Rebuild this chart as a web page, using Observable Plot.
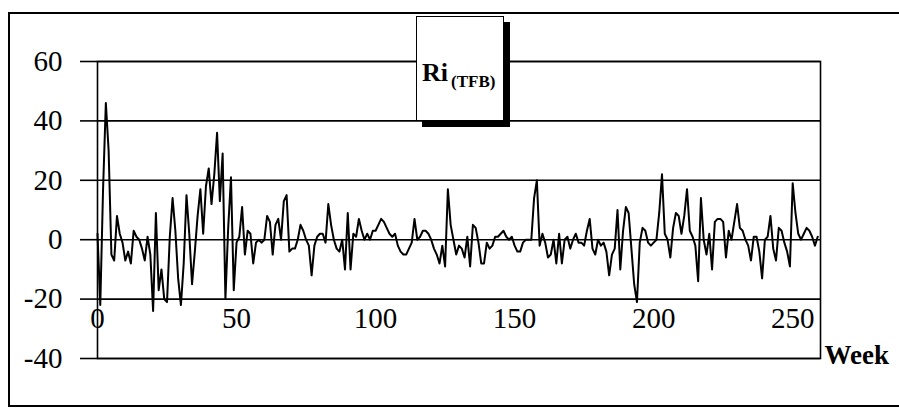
<!DOCTYPE html>
<html>
<head>
<meta charset="utf-8">
<script src="https://cdn.jsdelivr.net/npm/d3@7"></script>
<script src="https://cdn.jsdelivr.net/npm/@observablehq/plot@0.6"></script>
<style>
  body { margin: 0; background: #fff; }
  #wrap { position: relative; width: 899px; height: 410px; overflow: hidden; font-family: "Liberation Serif", "Times New Roman", serif; }
  #chart { position: absolute; left: 0; top: 0; }
  #outer { position: absolute; left: 8px; top: 12px; width: 899px; height: 391px; border: 2px solid #000; border-right: none; }
  #legend { position: absolute; left: 416px; top: 16px; width: 86px; height: 103px; background: #fff; border: 1.5px solid #000; box-shadow: 6px 6px 0 #000; }
  #legend .main { position: absolute; left: 5px; top: 43px; font-weight: bold; font-size: 26px; line-height: 26px; }
  #legend .sub { position: absolute; left: 34px; top: 56px; font-weight: bold; font-size: 17px; line-height: 17px; }
</style>
</head>
<body>
<div id="wrap">
  <div id="chart"></div>
  <div id="outer"></div>
  <div id="legend"><span class="main">Ri</span><span class="sub">(TFB)</span></div>
</div>
<script>
// Weekly Ri(TFB) values, week 0 .. 259
const riValues = [
  2, -22, 17, 46, 30, -5, -7, 8, 2, -1,
  -7, -4, -8, 3, 1, 0, -3, -7, 1, -5,
  -24, 9, -17, -10, -20, -21, 1, 14, 3, -13,
  -22, -8, 15, 2, -15, -4, 8, 17, 2, 18,
  24, 12, 22, 36, 13, 29, -20, 4, 21, -17,
  -1, 1, 11, -5, 3, 2, -8, -1, 0, -1,
  0, 8, 6, -5, 5, 7, 0, 13, 15, -4,
  -3, -3, 0, 5, 3, 0, -2, -12, -2, 1,
  2, 2, -1, 12, 5, 0, -3, -4, 0, -10,
  9, -10, 2, 1, 7, 3, 0, 2, 0, 3,
  3, 5, 7, 6, 4, 2, 1, 2, -2, -4,
  -5, -5, -3, -1, 7, 0, 1, 3, 3, 2,
  0, -3, -5, -8, -2, -9, 17, 5, 0, -5,
  -2, -3, -6, 1, -9, 5, 4, -1, -8, -8,
  -1, -3, -2, 1, 1, 2, 3, 1, 0, 1,
  -2, -4, -4, -1, 0, 0, 0, 14, 20, -2,
  2, -1, -6, -5, 0, -8, 2, -8, 0, 1,
  -3, 0, 2, -1, -1, -2, 3, 7, -3, -5,
  0, -2, -1, -4, -12, -5, -3, 10, -10, 3,
  11, 9, -3, -15, -21, -1, 4, 3, -1, -2,
  -1, 0, 9, 22, 2, 0, -6, 4, 9, 8,
  2, 8, 17, 3, 1, -2, -14, 14, 0, -5,
  2, -10, 6, 7, 7, 6, -6, 3, 0, 6,
  12, 4, 3, 0, -2, -7, 1, 1, -4, -13,
  0, 1, 8, -3, -7, 4, 3, -1, -4, -9,
  19, 9, 2, 0, 2, 4, 3, 1, -2, 1
];
const weeks = riValues.map((_, i) => i);
const yTicks = [-40, -20, 0, 20, 40, 60];
const xTicks = [0, 50, 100, 150, 200, 250];
const xLabel = "Week";

const data = weeks.map((w, i) => ({ week: w, ri: riValues[i] }));

const chart = Plot.plot({
  width: 899,
  height: 410,
  marginLeft: 97,
  marginRight: 79,
  marginTop: 61,
  marginBottom: 52,
  style: { background: "transparent", fontFamily: "'Liberation Serif', 'Times New Roman', serif", color: "#000", overflow: "visible" },
  x: { domain: [0, 260], axis: null },
  y: { domain: [-40, 60], axis: null },
  marks: [
    Plot.ruleY(yTicks, { stroke: "#000", strokeWidth: 1.6 }),
    Plot.axisY(yTicks, { label: null, tickSize: 17, tickPadding: 18, tickFormat: d => String(d), fontSize: 29, stroke: "#000", strokeWidth: 1.6 }),
    Plot.frame({ stroke: "#000", strokeWidth: 1.6 }),
    Plot.text(xTicks, { x: d => d, y: -20, dy: 20, text: d => String(d), fontSize: 29, lineAnchor: "middle", fill: "#000" }),
    Plot.line(data, { x: "week", y: "ri", stroke: "#000", strokeWidth: 2 }),
    Plot.text([xLabel], { x: 260, y: -40, dx: 4, dy: -3, text: d => d, textAnchor: "start", lineAnchor: "middle", fontWeight: "bold", fontSize: 27, fill: "#000" })
  ]
});
document.getElementById("chart").appendChild(chart);
</script>
</body>
</html>
